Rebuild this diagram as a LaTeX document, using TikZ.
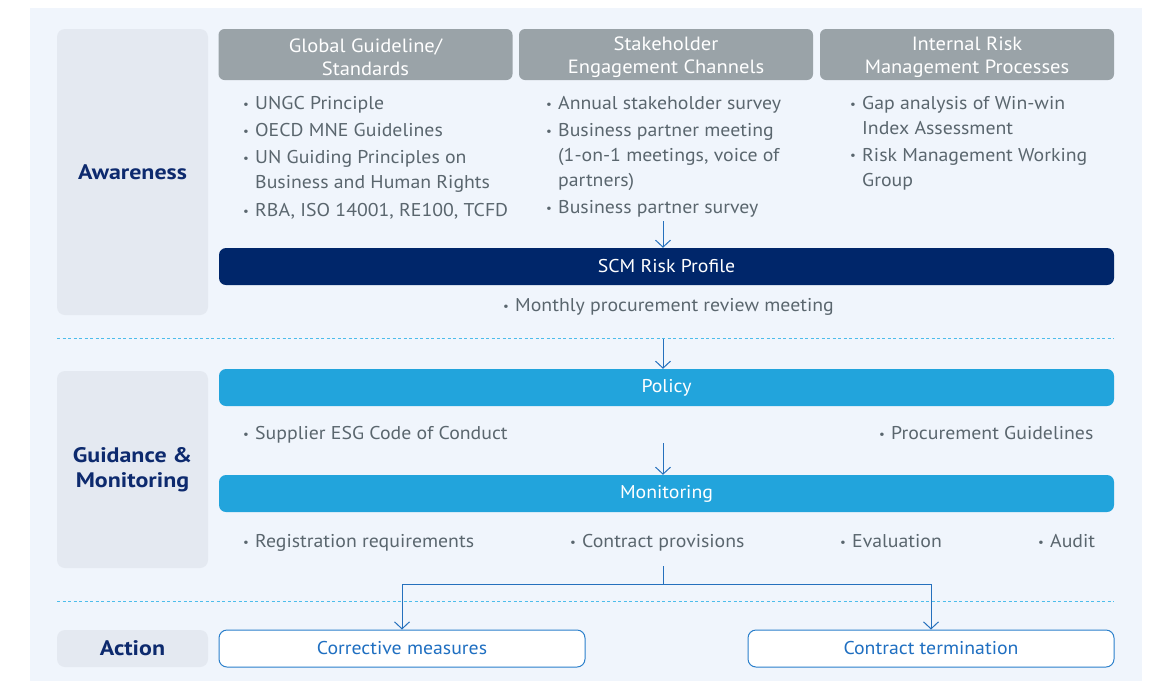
\documentclass[tikz,border=0pt]{standalone}
\usepackage{fontspec}
\setmainfont{PT Sans}[FakeStretch=1.07]
\newfontfamily\lblfont{PT Sans}[FakeStretch=1.14]
\usetikzlibrary{arrows.meta}
\definecolor{panel}{HTML}{F0F5FC}
\definecolor{lblbox}{HTML}{E4E9F1}
\definecolor{hdrgray}{HTML}{9AA3A8}
\definecolor{navy}{HTML}{00266A}
\definecolor{bluebar}{HTML}{22A4DC}
\definecolor{txtgray}{HTML}{5A666E}
\definecolor{lbltxt}{HTML}{0D2A6E}
\definecolor{arrblue}{HTML}{2570BD}
\definecolor{dashblue}{HTML}{4DBDEB}
\definecolor{actborder}{HTML}{2A7FCB}
\definecolor{acttxt}{HTML}{1F6FC1}
\newcommand\bul{\makebox[12pt][l]{\fontsize{12}{12}\selectfont\raisebox{1.5pt}{\textbullet}}}
\newcommand\hstrut{\rule{0pt}{19pt}}
\tikzset{
  itm/.style={anchor=base west, inner sep=0pt, text=txtgray, font=\fontsize{18.5}{25}\selectfont, align=left},
  lbl/.style={fill=lblbox, rounded corners=8pt, inner sep=0pt, text=lbltxt, font=\lblfont\fontsize{21}{25}\selectfont\bfseries, align=center},
  hdr/.style={fill=hdrgray, rounded corners=6pt, inner sep=0pt, text=white, font=\fontsize{19.2}{23}\selectfont, align=center, minimum width=294pt, minimum height=51pt},
  bar/.style={rounded corners=7pt, inner sep=0pt, text=white, font=\fontsize{18.5}{23}\selectfont, minimum width=895pt, minimum height=37pt},
  actbox/.style={draw=actborder, line width=1pt, fill=white, rounded corners=8pt, inner sep=0pt, text=acttxt, font=\fontsize{18.5}{23}\selectfont, minimum width=366pt, minimum height=37pt},
  ln/.style={draw=arrblue, line width=1pt},
  arr/.style={ln, -{Straight Barb[length=7pt,width=15pt]}},
  dsh/.style={draw=dashblue, line width=0.9pt, dash pattern=on 3pt off 2.5pt},
}
\begin{document}
\begin{tikzpicture}[x=1pt,y=-1pt]
\useasboundingbox (0,0) rectangle (1156,681);
\fill[white] (0,0) rectangle (1156,681);
\fill[panel] (30,8) rectangle (1142,681);

% left labels
\node[lbl, minimum width=151pt, minimum height=286pt] (aw) at (132.5,172) {Awareness};
\node[lbl, minimum width=151pt, minimum height=197pt] (gm) at (132.5,469.5) {Guidance \&\\Monitoring};
\node[lbl, minimum width=151pt, minimum height=37pt] (ac) at (132.5,648.5) {Action};

% headers
\node[hdr] (h1) at (365.5,54.5) {\hstrut Global Guideline/\\Standards};
\node[hdr] (h2) at (666,54.5) {\hstrut Stakeholder\\Engagement Channels};
\node[hdr] (h3) at (967,54.5) {\hstrut Internal Risk\\Management Processes};

% column 1
\node[itm] (g1) at (243,109.5) {\bul UNGC Principle};
\node[itm] (g2) at (243,136.5) {\bul OECD MNE Guidelines};
\node[itm] (g3) at (243,163.5) {\bul\begin{tabular}[t]{@{}l@{}}UN Guiding Principles on\\Business and Human Rights\end{tabular}};
\node[itm] (g4) at (243,216.5) {\bul RBA, ISO 14001, RE100, TCFD};
% column 2
\node[itm] (s1) at (546,109.5) {\bul Annual stakeholder survey};
\node[itm] (s2) at (546,136.5) {\bul\begin{tabular}[t]{@{}l@{}}Business partner meeting\\(1-on-1 meetings, voice of\\partners)\end{tabular}};
\node[itm] (s3) at (546,213.5) {\bul Business partner survey};
% column 3
\node[itm] (r1) at (850,109.5) {\bul\begin{tabular}[t]{@{}l@{}}Gap analysis of Win-win\\Index Assessment\end{tabular}};
\node[itm] (r2) at (850,161) {\bul\begin{tabular}[t]{@{}l@{}}Risk Management Working\\Group\end{tabular}};

% SCM risk profile
\node[bar, fill=navy] (scm) at (666.5,266.5) {SCM Risk Profile};
\node[itm] (mp) at (503,311.5) {\bul Monthly procurement review meeting};

% policy
\node[bar, fill=bluebar] (pol) at (666.5,387.5) {Policy};
\node[itm] (p1) at (243,439.5) {\bul Supplier ESG Code of Conduct};
\node[itm] (p2) at (879,439.5) {\bul Procurement Guidelines};

% monitoring
\node[bar, fill=bluebar] (mon) at (666.5,493.5) {Monitoring};
\node[itm] (m1) at (243,547.5) {\bul Registration requirements};
\node[itm] (m2) at (570,547.5) {\bul Contract provisions};
\node[itm] (m3) at (840,547.5) {\bul Evaluation};
\node[itm] (m4) at (1038,547.5) {\bul Audit};

% actions
\node[actbox] (cor) at (402,648.5) {Corrective measures};
\node[actbox] (ter) at (931,648.5) {Contract termination};

% dashed separators
\coordinate (d1a) at (57,338); \coordinate (d1b) at (1114,338);
\coordinate (d2a) at (57,601); \coordinate (d2b) at (1114,601);
\draw[dsh] (d1a) -- (d1b);
\draw[dsh] (d2a) -- (d2b);

% arrows
\coordinate (a1) at (663,221);
\draw[arr] (a1) -- (a1 |- scm.north);
\coordinate (a2) at (663,339);
\draw[arr] (a2) -- (a2 |- pol.north);
\coordinate (a3) at (663,443);
\draw[arr] (a3) -- (a3 |- mon.north);
\coordinate (a4) at (663,566);
\coordinate (j) at (663,584);
\draw[ln] (a4) -- (j);
\draw[arr] (j) -| (cor.north);
\draw[arr] (j) -| (ter.north);
\end{tikzpicture}
\end{document}
